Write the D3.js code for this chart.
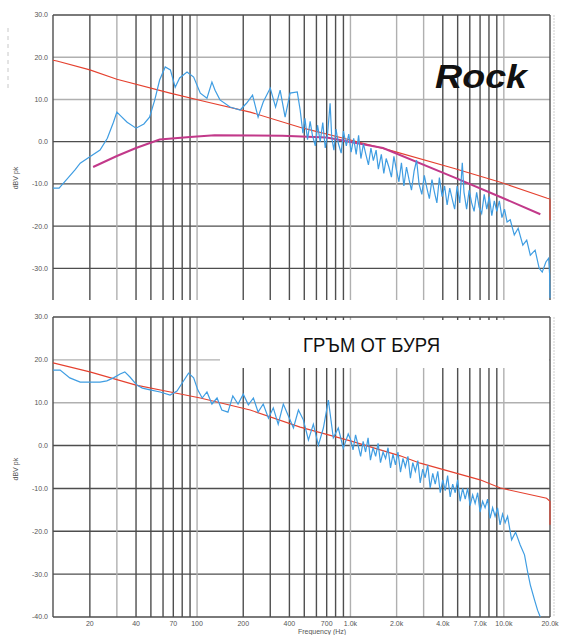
<!DOCTYPE html>
<html>
<head>
<meta charset="utf-8">
<script src="https://cdn.jsdelivr.net/npm/d3@7"></script>
<style>
  body { margin: 0; background: #fff; }
  text { font-family: "Liberation Sans", Arial, sans-serif; }
</style>
</head>
<body>
<div id="chart"></div>
<script>
// Axis data
const freqTicks = [20, 40, 70, 100, 200, 400, 700, 1000, 2000, 4000, 7000, 10000, 20000];
const freqTickLabels = ["20", "40", "70", "100", "200", "400", "700", "1.0k", "2.0k", "4.0k", "7.0k", "10.0k", "20.0k"];
const gridDark = [20, 40, 50, 60, 70, 80, 90, 200, 300, 400, 500, 600, 700, 800, 900, 4000, 5000, 6000, 7000, 8000, 9000];
const gridLight = [30, 100, 1000, 2000, 3000, 10000];
const dbTicksTop = [30, 20, 10, 0, -10, -20, -30];
const dbTicksBottom = [30, 20, 10, 0, -10, -20, -30, -40];
const dbLight = [20, 10];

// Rock panel: [Hz, dB]
const rockRef = [[11.5, 19.3], [12.2, 19.1], [20, 17.0], [30, 14.8], [66.7, 11.5], [116, 9.4], [222, 7.0], [491, 3.2],
  [1000, 0.4], [1800, -2.0], [4700, -6.3], [9500, -9.6], [19200, -13.4], [20000, -13.6], [20000, -18.6]];
const rockFit = [[21, -6.0], [30, -3.4], [40, -1.5], [57, 0.5], [90, 1.1], [130, 1.5], [360, 1.4], [700, 1.0],
  [1630, -1.5], [4700, -8.4], [9500, -13.1], [17300, -17.2]];
const rockMeas = [[11.5, -11.0], [12.6, -11.0], [14, -9.1], [16, -6.7], [17.3, -5.1], [20, -3.6], [23.3, -2.0], [26, 0.8],
  [28.5, 4.6], [30, 7.0], [32, 6.0], [35, 4.6], [40, 3.2], [45, 4.2], [49, 5.8], [53, 9.9], [57, 14.6], [62, 17.7],
  [67, 17.0], [72, 12.9], [77, 15.1], [86, 16.5], [95, 15.3], [105, 11.5], [116, 10.3], [125, 14.1], [131, 12.2],
  [141, 9.9], [164, 8.2], [191, 7.5], [210, 9.1], [230, 11.0], [250, 5.8], [270, 9.4], [300, 12.7], [325, 8.2],
  [348, 12.2], [375, 5.8], [404, 11.5], [450, 11.8],
  [470, 7.5], [490, 2.0], [505, 5.5], [525, 0.5], [546, 4.8], [565, 1.5], [590, -1.0], [610, 3.9], [635, 0.0],
  [660, 4.5], [685, -1.5], [710, 2.0], [737, 9.1], [755, 1.0], [780, -2.0], [805, 3.0], [835, -0.5], [870, -2.7],
  [900, 2.5], [940, -1.0], [975, 1.8], [1010, -2.5], [1050, 0.8], [1090, -3.0], [1130, 1.5], [1170, -4.0],
  [1215, -0.5], [1260, -3.0], [1310, -5.5], [1360, -1.5], [1410, -4.5], [1470, -2.0], [1520, -6.5], [1590, -3.0],
  [1650, -7.5], [1710, -4.0], [1780, -6.0], [1850, -8.4], [1920, -3.5], [1990, -6.5], [2070, -9.5], [2150, -5.0],
  [2230, -10.5], [2320, -6.0], [2410, -9.0], [2500, -11.5], [2600, -7.0], [2700, -4.4], [2800, -10.0], [2920, -12.5],
  [3030, -8.0], [3150, -11.0], [3270, -13.5], [3400, -9.0], [3530, -12.0], [3660, -14.5], [3800, -8.5], [3960, -13.0],
  [4110, -10.5], [4270, -15.0], [4440, -11.0], [4600, -13.5], [4780, -16.0], [4960, -10.5], [5160, -14.5],
  [5360, -5.0], [5500, -12.0], [5720, -16.0], [5940, -11.5], [6170, -14.5], [6400, -16.5], [6650, -12.0],
  [6900, -15.5], [7170, -17.0], [7450, -12.5], [7740, -16.0], [8040, -13.0], [8350, -17.5], [8670, -14.0],
  [9000, -16.5], [9350, -14.0], [9720, -18.0], [10100, -16.0], [10500, -19.0], [11010, -18.5],
  [11700, -22.1], [12400, -20.5], [13300, -24.5], [14100, -23.3], [14880, -26.9], [16000, -25.7], [17000, -30.0],
  [17800, -30.9], [18800, -28.5], [19600, -27.6], [19900, -31.6], [20000, -37.0]];

// Storm panel: [Hz, dB]
const stormRef = [[11.5, 19.3], [20, 17.2], [40, 14.1], [67, 12.5], [105, 11.1], [222, 8.3], [470, 4.3], [1000, 1.1],
  [2110, -2.4], [2850, -4.1], [7000, -8.0], [9500, -9.9], [19000, -12.3], [20000, -13.0], [20000, -18.5]];
const stormMeas = [[11.5, 17.6], [12.8, 17.6], [14.8, 15.8], [17.3, 14.8], [20.1, 14.8], [23.3, 14.8], [25.8, 15.1],
  [28.5, 15.8], [31.5, 16.7], [33.8, 17.2], [36.5, 16.0], [40.5, 14.1], [44, 13.4], [49.4, 13.0], [57.4, 12.5],
  [66.7, 11.8], [74, 12.7], [80, 14.6], [88, 16.9], [95, 15.8], [101, 13.0], [108, 11.1], [116, 12.5], [125, 9.7],
  [135, 11.1], [145, 8.3], [159, 7.8], [171, 11.6], [185, 9.7], [200, 12.0], [216, 9.5], [233, 11.1], [250, 7.8],
  [270, 9.7], [292, 6.4], [314, 8.8], [338, 5.0], [365, 9.7], [394, 6.9], [425, 4.1], [458, 8.3], [493, 6.0],
  [532, 1.3], [573, 5.0], [618, 0.1], [666, 4.1], [718, 10.6], [773, 1.8], [833, 4.1], [898, -0.6], [967, 2.7],
  [1000, 1.5], [1040, -1.0], [1080, 2.5], [1123, 0.0], [1165, -2.5], [1210, 1.0], [1255, -1.5], [1303, 1.8],
  [1350, -3.4], [1404, -0.5], [1460, -2.5], [1514, 0.5], [1570, -4.0], [1631, -1.5], [1695, -3.0], [1758, -0.5],
  [1825, -5.2], [1894, -2.0], [1965, -4.5], [2040, -1.5], [2120, -6.2], [2200, -3.0], [2280, -5.0], [2370, -2.5],
  [2460, -7.6], [2550, -4.0], [2650, -6.0], [2750, -3.5], [2850, -8.7], [2960, -5.5], [3070, -7.5], [3190, -4.5],
  [3310, -9.9], [3440, -6.5], [3570, -9.0], [3710, -6.0], [3850, -11.0], [4000, -8.0], [4150, -10.5], [4300, -7.0],
  [4470, -12.0], [4640, -9.0], [4820, -11.0], [5000, -8.0], [5190, -13.0], [5390, -10.0], [5600, -12.5],
  [5810, -10.0], [6030, -14.0], [6260, -11.5], [6500, -13.5], [6750, -11.0], [7000, -15.5], [7270, -13.0],
  [7550, -14.5], [7840, -12.5], [8140, -17.0], [8450, -14.5], [8770, -16.5], [9100, -14.5], [9450, -18.5],
  [9810, -16.0], [10200, -18.0], [10580, -16.5], [11240, -22.0], [11930, -20.2], [12790, -23.2], [13640, -25.5],
  [14300, -29.5], [14880, -32.5], [15850, -36.0], [16590, -38.4], [17290, -40.0]];

// Styling
const darkGrid = "#4e4e4e";
const lightGrid = "#b0b0b0";
const refColour = "#e5412f";
const fitColour = "#c2398a";
const measColour = "#3f9de2";

const width = 563, height = 635;
const plotLeft = 53, plotRight = 550;

const svg = d3.select("#chart").append("svg")
  .attr("width", width)
  .attr("height", height);

const x = d3.scaleLog().domain([11.5, 20000]).range([plotLeft, plotRight]);

function drawPanel(id, top, bottom, dbMin, dbTicks, hasBottomAxis) {
  const y = d3.scaleLinear().domain([dbMin, 30]).range([bottom, top]);
  const g = svg.append("g").attr("class", id);

  g.append("clipPath").attr("id", "clip-" + id)
    .append("rect")
    .attr("x", plotLeft).attr("y", top - 1)
    .attr("width", plotRight - plotLeft + 1).attr("height", bottom - top + 2);

  // horizontal grid
  g.selectAll("hgrid")
    .data(dbTicks.filter(d => d < 30 && d > dbMin))
    .join("line")
    .attr("x1", plotLeft).attr("x2", plotRight)
    .attr("y1", d => y(d)).attr("y2", d => y(d))
    .attr("stroke", d => dbLight.includes(d) ? lightGrid : darkGrid)
    .attr("stroke-width", 1.4);

  // vertical grid
  g.selectAll("vgridLight")
    .data(gridLight)
    .join("line")
    .attr("x1", d => x(d)).attr("x2", d => x(d))
    .attr("y1", top).attr("y2", bottom)
    .attr("stroke", lightGrid)
    .attr("stroke-width", 1.4);

  g.selectAll("vgridDark")
    .data(gridDark)
    .join("line")
    .attr("x1", d => x(d)).attr("x2", d => x(d))
    .attr("y1", top).attr("y2", bottom)
    .attr("stroke", darkGrid)
    .attr("stroke-width", 1.4);

  // frame
  g.append("line").attr("x1", plotLeft).attr("x2", plotRight).attr("y1", top).attr("y2", top)
    .attr("stroke", darkGrid).attr("stroke-width", 1.4);
  g.append("line").attr("x1", plotLeft).attr("x2", plotLeft).attr("y1", top).attr("y2", bottom)
    .attr("stroke", darkGrid).attr("stroke-width", 1.4);
  g.append("line").attr("x1", plotRight).attr("x2", plotRight).attr("y1", top).attr("y2", bottom)
    .attr("stroke", darkGrid).attr("stroke-width", 1.4);
  g.append("line").attr("x1", plotRight + 4).attr("x2", plotRight + 4).attr("y1", top).attr("y2", bottom)
    .attr("stroke", "#cfcfcf").attr("stroke-width", 1).attr("stroke-dasharray", "2 1");
  if (hasBottomAxis) {
    g.append("line").attr("x1", plotLeft).attr("x2", plotRight).attr("y1", bottom).attr("y2", bottom)
      .attr("stroke", darkGrid).attr("stroke-width", 1.4);
  }

  // y tick labels
  g.selectAll("ylabels")
    .data(dbTicks)
    .join("text")
    .attr("x", plotLeft - 5)
    .attr("y", d => y(d))
    .attr("dy", "0.35em")
    .attr("text-anchor", "end")
    .attr("font-size", "7px")
    .attr("fill", "#555")
    .text(d => d.toFixed(1));

  return { g, y };
}

const line = (y) => d3.line().x(d => x(d[0])).y(d => y(d[1]));

// Top panel: Rock
const topP = drawPanel("rock", 15, 300, -37.5, dbTicksTop, false);

topP.g.append("text")
  .attr("x", 18).attr("y", topP.y(-8.6))
  .attr("transform", `rotate(-90, 18, ${topP.y(-8.6)})`)
  .attr("text-anchor", "middle")
  .attr("font-size", "7px").attr("fill", "#555")
  .text("dBV pk");

svg.append("line")
  .attr("x1", 8).attr("x2", 8).attr("y1", 28).attr("y2", 88)
  .attr("stroke", "#c8c8c8").attr("stroke-dasharray", "4 4");

topP.g.append("text")
  .attr("x", 435).attr("y", 88)
  .attr("font-size", "33px")
  .attr("font-weight", "bold")
  .attr("font-style", "italic")
  .attr("fill", "#111")
  .attr("textLength", 92)
  .attr("lengthAdjust", "spacingAndGlyphs")
  .text("Rock");

const topCurves = topP.g.append("g").attr("clip-path", "url(#clip-rock)");
topCurves.append("path").datum(rockRef).attr("d", line(topP.y))
  .attr("fill", "none").attr("stroke", refColour).attr("stroke-width", 1.1);
topCurves.append("path").datum(rockFit).attr("d", line(topP.y))
  .attr("fill", "none").attr("stroke", fitColour).attr("stroke-width", 2);
topCurves.append("path").datum(rockMeas).attr("d", line(topP.y))
  .attr("fill", "none").attr("stroke", measColour).attr("stroke-width", 1.2);

// Bottom panel: storm
const botP = drawPanel("storm", 317, 617, -40, dbTicksBottom, true);

botP.g.append("rect")
  .attr("x", 220).attr("y", 320)
  .attr("width", plotRight - 1 - 220).attr("height", 48)
  .attr("fill", "#fff");

botP.g.append("text")
  .attr("x", 303).attr("y", 352)
  .attr("font-family", "'Open Sans', 'Noto Sans', sans-serif")
  .attr("font-size", "20px")
  .attr("fill", "#111")
  .attr("textLength", 137)
  .attr("lengthAdjust", "spacingAndGlyphs")
  .text("ГРЪМ ОТ БУРЯ");

botP.g.append("text")
  .attr("x", 18).attr("y", botP.y(-5.5))
  .attr("transform", `rotate(-90, 18, ${botP.y(-5.5)})`)
  .attr("text-anchor", "middle")
  .attr("font-size", "7px").attr("fill", "#555")
  .text("dBV pk");

const botCurves = botP.g.append("g").attr("clip-path", "url(#clip-storm)");
botCurves.append("path").datum(stormRef).attr("d", line(botP.y))
  .attr("fill", "none").attr("stroke", refColour).attr("stroke-width", 1.1);
botCurves.append("path").datum(stormMeas).attr("d", line(botP.y))
  .attr("fill", "none").attr("stroke", measColour).attr("stroke-width", 1.2);

// x tick labels
svg.selectAll("xlabels")
  .data(freqTicks)
  .join("text")
  .attr("x", d => x(d))
  .attr("y", 626)
  .attr("text-anchor", "middle")
  .attr("font-size", "7px")
  .attr("fill", "#555")
  .text((d, i) => freqTickLabels[i]);

svg.append("text")
  .attr("x", 322).attr("y", 634)
  .attr("text-anchor", "middle")
  .attr("font-size", "7px")
  .attr("fill", "#555")
  .text("Frequency (Hz)");
</script>
</body>
</html>
